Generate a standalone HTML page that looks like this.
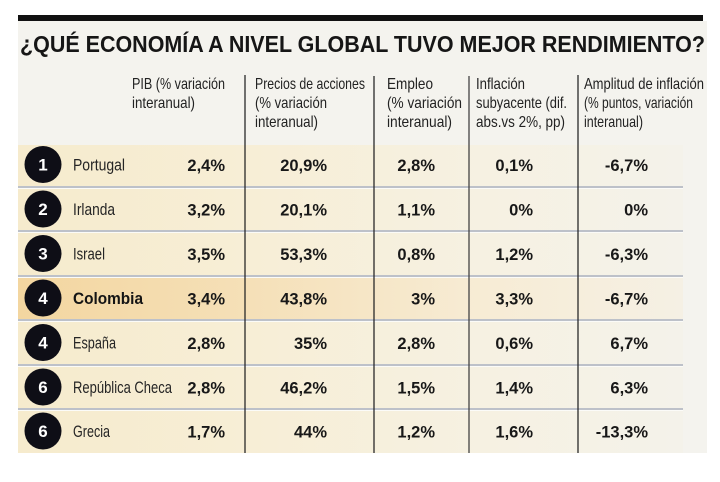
<!DOCTYPE html>
<html><head><meta charset="utf-8"><style>
html,body{margin:0;padding:0;background:#fff;}
svg{display:block;}
text{font-family:"Liberation Sans",sans-serif;}
</style></head><body>
<svg width="720" height="482" viewBox="0 0 720 482" xmlns="http://www.w3.org/2000/svg">
<defs>
<linearGradient id="rg" x1="0" x2="1" y1="0" y2="0">
<stop offset="0" stop-color="#f6ebcd"/>
<stop offset="0.35" stop-color="#f7eed6"/>
<stop offset="0.7" stop-color="#f6f1e2"/>
<stop offset="1" stop-color="#f4f2ea"/>
</linearGradient>
<linearGradient id="cg" x1="0" x2="1" y1="0" y2="0">
<stop offset="0" stop-color="#f3d6a0"/>
<stop offset="0.35" stop-color="#f5e0b8"/>
<stop offset="0.7" stop-color="#f7ecd5"/>
<stop offset="1" stop-color="#f5f0e4"/>
</linearGradient>
</defs>
<rect x="0" y="0" width="720" height="482" fill="#fff"/>
<rect x="18" y="21" width="689" height="432" fill="#f4f3ee"/>
<rect x="18" y="15" width="685" height="6" fill="#111"/>
<text x="20" y="52" font-size="23.5" font-weight="bold" fill="#161616" textLength="685" lengthAdjust="spacingAndGlyphs">¿QUÉ ECONOMÍA A NIVEL GLOBAL TUVO MEJOR RENDIMIENTO?</text>

<!-- headers -->
<g font-size="16" fill="#222">
<text x="132" y="89" textLength="93" lengthAdjust="spacingAndGlyphs">PIB (% variación</text>
<text x="132" y="108" textLength="63" lengthAdjust="spacingAndGlyphs">interanual)</text>
<text x="255" y="89" textLength="110" lengthAdjust="spacingAndGlyphs">Precios de acciones</text>
<text x="255" y="108" textLength="72" lengthAdjust="spacingAndGlyphs">(% variación</text>
<text x="255" y="127" textLength="63" lengthAdjust="spacingAndGlyphs">interanual)</text>
<text x="387" y="89" textLength="46" lengthAdjust="spacingAndGlyphs">Empleo</text>
<text x="387" y="108" textLength="75" lengthAdjust="spacingAndGlyphs">(% variación</text>
<text x="387" y="127" textLength="65" lengthAdjust="spacingAndGlyphs">interanual)</text>
<text x="476" y="89" textLength="49" lengthAdjust="spacingAndGlyphs">Inflación</text>
<text x="476" y="108" textLength="91" lengthAdjust="spacingAndGlyphs">subyacente (dif.</text>
<text x="476" y="127" textLength="89" lengthAdjust="spacingAndGlyphs">abs.vs 2%, pp)</text>
<text x="584" y="89" textLength="120" lengthAdjust="spacingAndGlyphs">Amplitud de inflación</text>
<text x="584" y="108" textLength="109" lengthAdjust="spacingAndGlyphs">(% puntos, variación</text>
<text x="584" y="127" textLength="59" lengthAdjust="spacingAndGlyphs">interanual)</text>
</g>

<!-- row backgrounds -->
<rect x="18" y="145" width="665" height="42" fill="url(#rg)"/>
<rect x="18" y="187" width="665" height="44" fill="url(#rg)"/>
<rect x="18" y="231" width="665" height="45" fill="url(#rg)"/>
<rect x="18" y="276" width="665" height="44" fill="url(#cg)"/>
<rect x="18" y="320" width="665" height="45" fill="url(#rg)"/>
<rect x="18" y="365" width="665" height="44" fill="url(#rg)"/>
<rect x="18" y="409" width="665" height="44" fill="url(#rg)"/>

<!-- separators -->
<g fill="#bdc1c9">
<rect x="18" y="186" width="665" height="2"/>
<rect x="18" y="230" width="665" height="2"/>
<rect x="18" y="275" width="665" height="2"/>
<rect x="18" y="319" width="665" height="2"/>
<rect x="18" y="364" width="665" height="2"/>
<rect x="18" y="408" width="665" height="2"/>
</g>
<g fill="#fbfbf8">
<rect x="18" y="188" width="665" height="1"/>
<rect x="18" y="232" width="665" height="1"/>
<rect x="18" y="277" width="665" height="1"/>
<rect x="18" y="321" width="665" height="1"/>
<rect x="18" y="366" width="665" height="1"/>
<rect x="18" y="410" width="665" height="1"/>
</g>

<!-- vertical lines -->
<g stroke="#2a2a2a" stroke-width="1.3">
<line x1="245" y1="75" x2="245" y2="453"/>
<line x1="374" y1="76" x2="374" y2="453"/>
<line x1="469" y1="76" x2="469" y2="453" stroke="#444"/>
<line x1="578" y1="75" x2="578" y2="453"/>
</g>

<!-- circles -->
<g fill="#0e0e16">
<circle cx="43" cy="164.5" r="18.5"/>
<circle cx="43" cy="209" r="18.5"/>
<circle cx="43" cy="253.5" r="18.5"/>
<circle cx="43" cy="298" r="18.5"/>
<circle cx="43" cy="342.5" r="18.5"/>
<circle cx="43" cy="387" r="18.5"/>
<circle cx="43" cy="431" r="18.5"/>
</g>
<g fill="#fff" font-size="17" font-weight="bold" text-anchor="middle">
<text x="43" y="170.5">1</text>
<text x="43" y="215">2</text>
<text x="43" y="259.5">3</text>
<text x="43" y="304">4</text>
<text x="43" y="348.5">4</text>
<text x="43" y="393">6</text>
<text x="43" y="437">6</text>
</g>

<!-- country names -->
<g font-size="17" fill="#252525">
<text x="73" y="170.5" textLength="52" lengthAdjust="spacingAndGlyphs">Portugal</text>
<text x="73" y="215" textLength="42" lengthAdjust="spacingAndGlyphs">Irlanda</text>
<text x="73" y="259.5" textLength="32" lengthAdjust="spacingAndGlyphs">Israel</text>
<text x="73" y="304" textLength="70" lengthAdjust="spacingAndGlyphs" font-weight="bold" fill="#141414">Colombia</text>
<text x="73" y="348.5" textLength="43" lengthAdjust="spacingAndGlyphs">España</text>
<text x="73" y="393" textLength="99" lengthAdjust="spacingAndGlyphs">República Checa</text>
<text x="73" y="437" textLength="37" lengthAdjust="spacingAndGlyphs">Grecia</text>
</g>

<!-- values -->
<g font-size="16.5" font-weight="bold" fill="#181818" text-anchor="end">
<text x="225" y="171">2,4%</text><text x="327" y="171">20,9%</text><text x="435" y="171">2,8%</text><text x="533" y="171">0,1%</text><text x="648" y="171">-6,7%</text>
<text x="225" y="215.5">3,2%</text><text x="327" y="215.5">20,1%</text><text x="435" y="215.5">1,1%</text><text x="533" y="215.5">0%</text><text x="648" y="215.5">0%</text>
<text x="225" y="260">3,5%</text><text x="327" y="260">53,3%</text><text x="435" y="260">0,8%</text><text x="533" y="260">1,2%</text><text x="648" y="260">-6,3%</text>
<text x="225" y="304.5">3,4%</text><text x="327" y="304.5">43,8%</text><text x="435" y="304.5">3%</text><text x="533" y="304.5">3,3%</text><text x="648" y="304.5">-6,7%</text>
<text x="225" y="349">2,8%</text><text x="327" y="349">35%</text><text x="435" y="349">2,8%</text><text x="533" y="349">0,6%</text><text x="648" y="349">6,7%</text>
<text x="225" y="393.5">2,8%</text><text x="327" y="393.5">46,2%</text><text x="435" y="393.5">1,5%</text><text x="533" y="393.5">1,4%</text><text x="648" y="393.5">6,3%</text>
<text x="225" y="437.5">1,7%</text><text x="327" y="437.5">44%</text><text x="435" y="437.5">1,2%</text><text x="533" y="437.5">1,6%</text><text x="648" y="437.5">-13,3%</text>
</g>
</svg>
</body></html>
